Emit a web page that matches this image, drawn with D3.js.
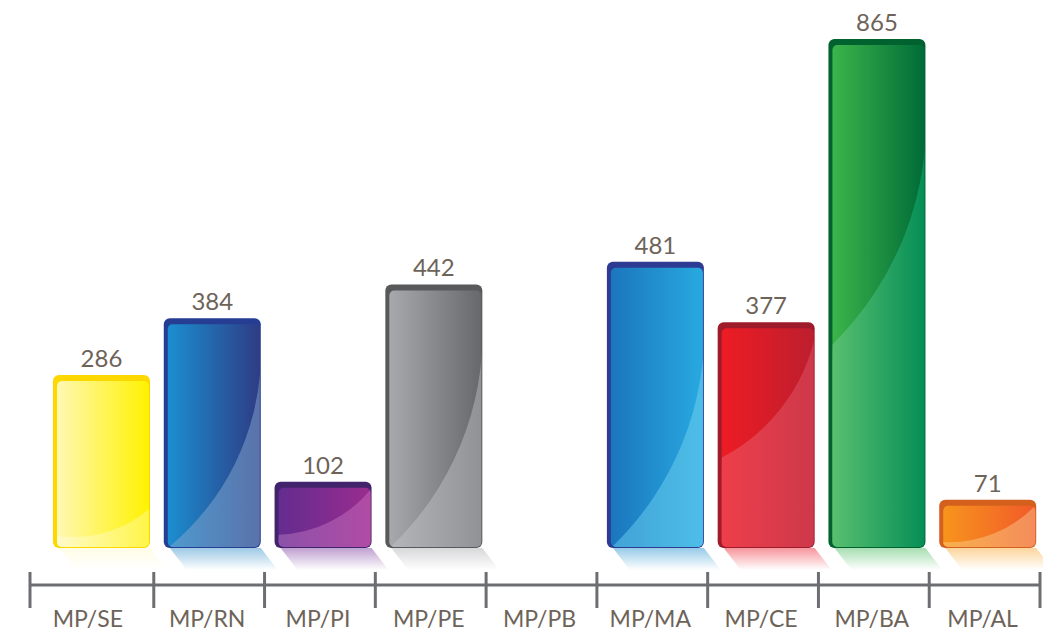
<!DOCTYPE html>
<html>
<head>
<meta charset="utf-8">
<style>
  body { margin: 0; background: #fff; }
  text { font-family: "Lato", "Noto Sans", sans-serif; }
</style>
</head>
<body>
<div id="chart"></div>
<script src="https://d3js.org/d3.v7.min.js"></script>
<script>
// data
const categories = ["MP/SE", "MP/RN", "MP/PI", "MP/PE", "MP/PB", "MP/MA", "MP/CE", "MP/BA", "MP/AL"];
const values = [286, 384, 102, 442, null, 481, 377, 865, 71];

// look of each bar: edge colour, main gradient, gloss gradient, where the gloss curve meets left/right side
const looks = {
  "MP/SE": { edge: "#fdd700", main: ["#fff8b2", "#fff200"], gloss: ["#fffbd2", "#fff53f"], gl: 0.93, gr: 0.77 },
  "MP/RN": { edge: "#263d94", main: ["#1b8ed0", "#2e3c85"], gloss: ["#4e9dd1", "#5a70a8"], gl: 1.0, gr: 0.18 },
  "MP/PI": { edge: "#41246b", main: ["#642c8f", "#9a2c8f"], gloss: ["#8a52aa", "#b34ba4"], gl: 0.8, gr: 0.1 },
  "MP/PE": { edge: "#58595b", main: ["#a7a9ac", "#67686b"], gloss: ["#b7b8bb", "#8f9093"], gl: 1.0, gr: 0.14 },
  "MP/MA": { edge: "#2d3b93", main: ["#1b76bd", "#28a9e0"], gloss: ["#41a0d5", "#4ec0e9"], gl: 1.0, gr: 0.19 },
  "MP/CE": { edge: "#9d1b2a", main: ["#ed1c24", "#bd1e2e"], gloss: ["#ef3f4a", "#cb384b"], gl: 0.6, gr: 0.07 },
  "MP/BA": { edge: "#02622f", main: ["#3cb54a", "#006b38"], gloss: ["#5dc270", "#008b55"], gl: 0.6, gr: 0.12 },
  "MP/AL": { edge: "#d4601e", main: ["#f7941d", "#f15a29"], gloss: ["#f9b24c", "#f48a5c"], gl: 0.88, gr: 0.1 }
};

const width = 1043, height = 636;
const base = 548;       // bottom of the bars
const axisY = 585;
const axisStart = 30;

const svg = d3.select("#chart").append("svg")
    .attr("width", width)
    .attr("height", height);

const defs = svg.append("defs");

const x = d3.scaleBand()
    .domain(categories)
    .range([43, 1040]);

const y = d3.scaleLinear()
    .domain([0, 865])
    .range([541, 39]);

const barW = 97;
const barOff = 10;

const rows = categories.map((c, i) => ({ cat: c, value: values[i], i: i }))
    .filter(d => d.value != null);

// gradients
rows.forEach(d => {
  const lk = looks[d.cat];
  [["main", lk.main], ["gloss", lk.gloss]].forEach(([name, cols]) => {
    const g = defs.append("linearGradient")
        .attr("id", `${name}-${d.i}`)
        .attr("x1", 0).attr("y1", 0).attr("x2", 1).attr("y2", 0);
    g.append("stop").attr("offset", 0).attr("stop-color", cols[0]);
    g.append("stop").attr("offset", 1).attr("stop-color", cols[1]);
  });
  const r = defs.append("linearGradient")
      .attr("id", `refl-${d.i}`)
      .attr("x1", 0).attr("y1", 0).attr("x2", 0).attr("y2", 1);
  r.append("stop").attr("offset", 0).attr("stop-color", lk.gloss[0]).attr("stop-opacity", 0.55);
  r.append("stop").attr("offset", 1).attr("stop-color", lk.gloss[0]).attr("stop-opacity", 0);

  defs.append("clipPath").attr("id", `clip-${d.i}`)
    .append("rect")
      .attr("x", x(d.cat) + barOff + 4)
      .attr("y", y(d.value) + 6)
      .attr("width", barW - 5)
      .attr("height", base - y(d.value) - 7)
      .attr("rx", 5);
});

// reflections
svg.append("g").selectAll("path")
  .data(rows)
  .join("path")
    .attr("d", d => {
      const x0 = x(d.cat) + barOff;
      return `M${x0 + 6},${base} L${x0 + barW},${base} L${x0 + barW + 17},${base + 22} L${x0 + 23},${base + 22} Z`;
    })
    .attr("fill", d => `url(#refl-${d.i})`);

const bars = svg.append("g").selectAll("g")
  .data(rows)
  .join("g");

// dark edge
bars.append("rect")
    .attr("x", d => x(d.cat) + barOff)
    .attr("y", d => y(d.value))
    .attr("width", barW)
    .attr("height", d => base - y(d.value))
    .attr("rx", 6)
    .attr("fill", d => looks[d.cat].edge);

// face
bars.append("rect")
    .attr("x", d => x(d.cat) + barOff + 4)
    .attr("y", d => y(d.value) + 6)
    .attr("width", barW - 5)
    .attr("height", d => base - y(d.value) - 7)
    .attr("rx", 5)
    .attr("fill", d => `url(#main-${d.i})`);

// gloss below the curve
bars.append("path")
    .attr("clip-path", d => `url(#clip-${d.i})`)
    .attr("fill", d => `url(#gloss-${d.i})`)
    .attr("d", d => {
      const lk = looks[d.cat];
      const left = x(d.cat) + barOff + 4;
      const right = x(d.cat) + barOff + barW;
      const top = y(d.value);
      const h = base - top;
      const yl = top + lk.gl * h;
      const yr = top + lk.gr * h;
      const chord = Math.hypot(right - left, yl - yr);
      const R = chord * 1.2;
      return `M${left},${yl} A${R},${R} 0 0 0 ${right},${yr} L${right + 5},${yr} L${right + 5},${base + 5} L${left - 5},${base + 5} Z`;
    });

// value labels
svg.append("g").selectAll("text")
  .data(rows)
  .join("text")
    .attr("x", d => x(d.cat) + barOff + barW / 2)
    .attr("y", d => y(d.value) - 8)
    .attr("text-anchor", "middle")
    .attr("font-size", 24)
    .attr("fill", "#6d6359")
    .text(d => d.value);

// axis
const axis = svg.append("g");
const ticks = categories.map(c => x(c));
ticks[0] = axisStart;
ticks.push(x.range()[1]);

axis.append("line")
    .attr("x1", axisStart).attr("x2", x.range()[1])
    .attr("y1", axisY).attr("y2", axisY)
    .attr("stroke", "#6d6e71")
    .attr("stroke-width", 3);

axis.selectAll(".tick")
  .data(ticks)
  .join("line")
    .attr("class", "tick")
    .attr("x1", d => d).attr("x2", d => d)
    .attr("y1", 572).attr("y2", 608)
    .attr("stroke", "#6d6e71")
    .attr("stroke-width", 3);

axis.selectAll(".cat")
  .data(categories)
  .join("text")
    .attr("class", "cat")
    .attr("x", (d, i) => i === 0 ? (axisStart + x(categories[1])) / 2 - 4 : x(d) + x.bandwidth() / 2 - 2)
    .attr("y", 627)
    .attr("text-anchor", "middle")
    .attr("font-size", 23)
    .attr("fill", "#6d6359")
    .text(d => d);
</script>
</body>
</html>
